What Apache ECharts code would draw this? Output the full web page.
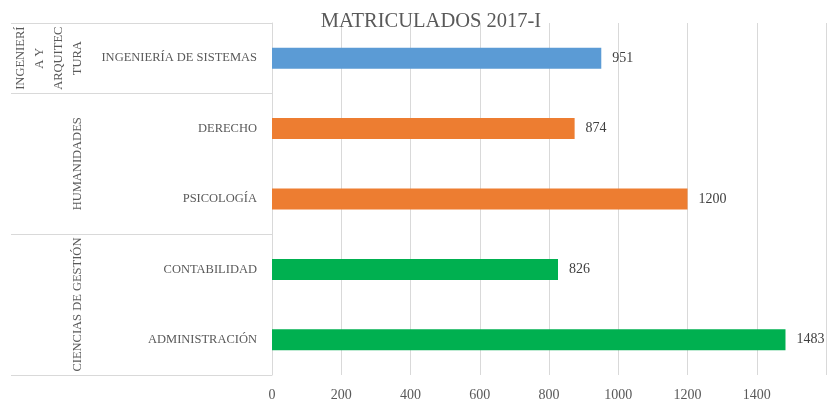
<!DOCTYPE html>
<html>
<head>
<meta charset="utf-8">
<script src="https://cdn.jsdelivr.net/npm/echarts@6/dist/echarts.min.js"></script>
<style>
html,body{margin:0;padding:0;background:#fff;}
#c{width:836px;height:405px;}
</style>
</head>
<body>
<div id="c"></div>
<script>
const categories = ['INGENIERÍA DE SISTEMAS', 'DERECHO', 'PSICOLOGÍA', 'CONTABILIDAD', 'ADMINISTRACIÓN'];
const values = [951, 874, 1200, 826, 1483];
const groupOf = [0, 1, 1, 2, 2];
const groupLabels = ['INGENIERÍ\nA Y\nARQUITEC\nTURA', 'HUMANIDADES', 'CIENCIAS DE GESTIÓN'];
const groupColors = ['#5B9BD5', '#ED7D31', '#00B050'];
const xTicks = [0, 200, 400, 600, 800, 1000, 1200, 1400, 1600];

const FONT = '"Liberation Serif", "Times New Roman", serif';
const chart = echarts.init(document.getElementById('c'));

const option = {
  animation: false,
  title: {
    text: 'MATRICULADOS 2017-I',
    left: 426,
    textAlign: 'center',
    top: 6,
    textStyle: { fontFamily: FONT, fontSize: 20.5, fontWeight: 'normal', color: '#595959' }
  },
  grid: { left: 272, right: 10, top: 23, bottom: 30 },
  xAxis: {
    type: 'value',
    min: xTicks[0],
    max: xTicks[xTicks.length - 1],
    interval: xTicks[1] - xTicks[0],
    axisLine: { show: false },
    axisTick: { show: false },
    splitLine: { lineStyle: { color: '#d9d9d9', width: 1 } },
    axisLabel: {
      showMaxLabel: false,
      margin: 13,
      formatter: v => String(v),
      fontFamily: FONT, fontSize: 14, color: '#595959'
    }
  },
  yAxis: {
    type: 'category',
    inverse: true,
    data: categories,
    axisLine: { show: true, lineStyle: { color: '#d9d9d9' } },
    axisTick: { show: false },
    axisLabel: { margin: 15, fontFamily: FONT, fontSize: 12.5, color: '#595959' }
  },
  series: [{
    type: 'bar',
    barWidth: 21,
    data: values.map((v, i) => ({ value: v, itemStyle: { color: groupColors[groupOf[i]] } })),
    label: {
      show: true, position: 'right', distance: 11,
      fontFamily: FONT, fontSize: 14, color: '#404040'
    }
  }]
};
chart.setOption(option);

// Group separators and rotated group labels, positioned via the category axis scale
const centers = categories.map(c => chart.convertToPixel({ yAxisIndex: 0 }, c));
const half = (centers[1] - centers[0]) / 2;
const gridLeft = chart.convertToPixel({ xAxisIndex: 0 }, 0);
const sepLeft = 11;
const graphics = [];
const boundaries = [centers[0] - half];
for (let i = 0; i < categories.length; i++) {
  if (i === categories.length - 1 || groupOf[i + 1] !== groupOf[i]) boundaries.push(centers[i] + half);
}
boundaries.forEach(y => {
  graphics.push({
    type: 'line', silent: true,
    shape: { x1: sepLeft, y1: Math.round(y) + 0.5, x2: gridLeft, y2: Math.round(y) + 0.5 },
    style: { stroke: '#d9d9d9', lineWidth: 1 }
  });
});
const lastLineX = 78, lineH = 19;
groupLabels.forEach((txt, g) => {
  const idx = groupOf.map((v, i) => v === g ? i : -1).filter(i => i >= 0);
  const yc = (centers[idx[0]] + centers[idx[idx.length - 1]]) / 2;
  const nLines = txt.split('\n').length;
  const xc = lastLineX - (nLines - 1) * lineH / 2;
  graphics.push({
    type: 'text', silent: true,
    x: xc, y: yc, rotation: Math.PI / 2,
    style: {
      text: txt, fontFamily: FONT, fontSize: 12.5, fill: '#595959',
      align: 'center', verticalAlign: 'middle', lineHeight: lineH
    }
  });
});
chart.setOption({ graphic: graphics });
</script>
</body>
</html>
